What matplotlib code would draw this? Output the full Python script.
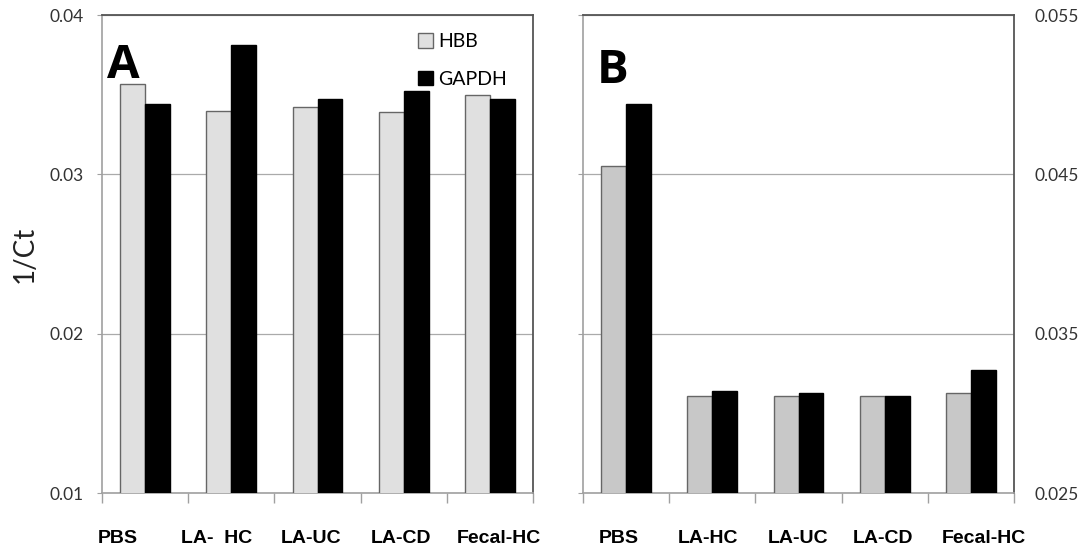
import matplotlib
matplotlib.use('Agg')
import matplotlib.pyplot as plt
import numpy as np

# values
categories_a = ['PBS', 'LA-  HC', 'LA-UC', 'LA-CD', 'Fecal-HC']
categories_b = ['PBS', 'LA-HC', 'LA-UC', 'LA-CD', 'Fecal-HC']
hbb_a = [0.0357, 0.0340, 0.0342, 0.0339, 0.0350]
gapdh_a = [0.0344, 0.0381, 0.0347, 0.0352, 0.0347]
hbb_b = [0.0455, 0.0311, 0.0311, 0.0311, 0.0313]
gapdh_b = [0.0494, 0.0314, 0.0313, 0.0311, 0.0327]
yticks_a = [0.01, 0.02, 0.03, 0.04]
yticks_b = [0.025, 0.035, 0.045, 0.055]
ytick_labels_a = ['0.01', '0.02', '0.03', '0.04']
ytick_labels_b = ['0.025', '0.035', '0.045', '0.055']

# layout: category labels in the original sit slightly off-centre
label_shift_a = [-0.32, -0.17, -0.08, -0.03, 0.10]
label_shift_b = [-0.09, -0.05, 0.0, -0.02, 0.15]

tick_font = ['Lato', 'DejaVu Sans']
cat_font = ['Liberation Sans', 'DejaVu Sans']

W, H = 1086, 551
fig = plt.figure(figsize=(W / 100, H / 100), dpi=100)

# axes boxes in pixels: left, right, top, bottom
boxes = {'A': (102, 533, 15, 493), 'B': (583, 1014, 15, 493)}


def make_axes(key):
    l, r, t, b = boxes[key]
    return fig.add_axes([l / W, 1 - b / H, (r - l) / W, (b - t) / H])


def draw_panel(ax, cats, shifts, hbb, gapdh, hbb_color, yticks, ylabels,
               label_right):
    x = np.arange(len(cats))
    bw = 0.29
    ax.bar(x - bw / 2, hbb, bw, color=hbb_color, edgecolor='#666666',
           linewidth=1.0, zorder=3, label='HBB')
    ax.bar(x + bw / 2, gapdh, bw, color='black', edgecolor='black',
           linewidth=1.0, zorder=3, label='GAPDH')
    ax.set_xlim(-0.5, len(cats) - 0.5)
    ax.set_ylim(yticks[0], yticks[-1])

    # gridlines
    ax.set_yticks(yticks)
    ax.yaxis.grid(True, color='#aaaaaa', linewidth=0.9, zorder=0)
    ax.set_axisbelow(True)

    # spines
    for s in ['left', 'bottom']:
        ax.spines[s].set_color('#a0a0a0')
        ax.spines[s].set_linewidth(1.2)
    for s in ['top', 'right']:
        ax.spines[s].set_color('#555555')
        ax.spines[s].set_linewidth(1.3)

    # x ticks at category boundaries, labels under categories
    ax.set_xticks(np.arange(len(cats) + 1) - 0.5)
    ax.set_xticklabels([])
    ax.tick_params(axis='x', which='major', direction='out', length=7,
                   color='#a0a0a0', width=1.0)
    ax.set_xticks(x + np.array(shifts), minor=True)
    ax.set_xticklabels(cats, minor=True, family=cat_font,
                       fontweight='bold', fontsize=14)
    ax.tick_params(axis='x', which='minor', length=0, pad=26.5)

    ax.set_yticklabels(ylabels, family=tick_font, fontsize=12.5,
                       color='#333333')
    if label_right:
        ax.tick_params(axis='y', direction='out', length=3.5,
                       color='#a0a0a0', left=True, right=False,
                       labelleft=False, labelright=True, pad=11.5)
    else:
        ax.tick_params(axis='y', direction='out', length=3.5,
                       color='#a0a0a0', pad=10)


ax_a = make_axes('A')
draw_panel(ax_a, categories_a, label_shift_a, hbb_a, gapdh_a, '#e0e0e0',
           yticks_a, ytick_labels_a, False)
ax_a.set_ylabel('1/Ct', family=tick_font, fontsize=20, color='#222222',
                labelpad=8)
ax_a.text(0.012, 0.943, 'A', transform=ax_a.transAxes, fontsize=34,
          fontweight='bold', family=['Open Sans', 'DejaVu Sans'],
          va='top', ha='left')
leg = ax_a.legend(loc='upper left', bbox_to_anchor=(0.733, 0.962),
                  frameon=False, handlelength=0.75, handleheight=0.75,
                  handletextpad=0.3, labelspacing=1.05, borderpad=0,
                  borderaxespad=0, prop={'family': tick_font, 'size': 14})

ax_b = make_axes('B')
draw_panel(ax_b, categories_b, label_shift_b, hbb_b, gapdh_b, '#c8c8c8',
           yticks_b, ytick_labels_b, True)
ax_b.text(0.032, 0.933, 'B', transform=ax_b.transAxes, fontsize=34,
          fontweight='bold', family=['Open Sans', 'DejaVu Sans'],
          va='top', ha='left')

fig.savefig('out.png', dpi=100)
